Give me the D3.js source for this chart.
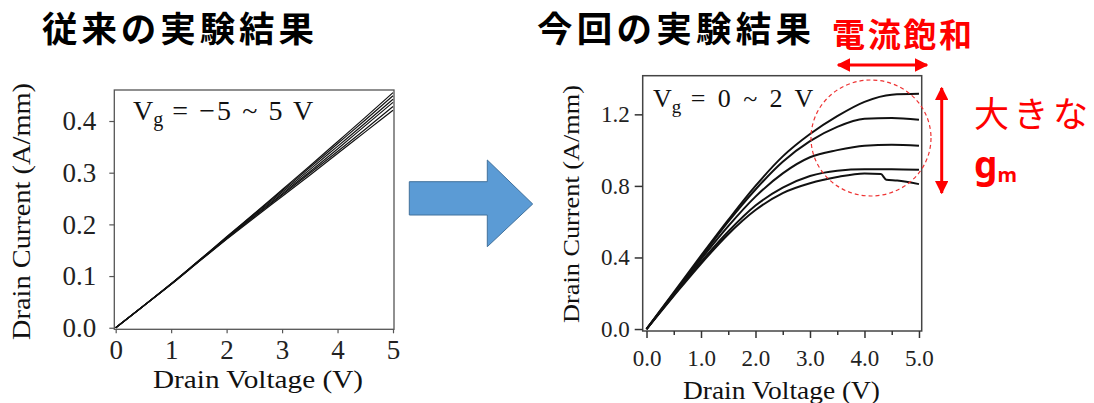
<!DOCTYPE html>
<html>
<head>
<meta charset="utf-8">
<script src="https://cdn.jsdelivr.net/npm/d3@7"></script>
<style>
  html, body { margin: 0; padding: 0; background: #fff; }
  svg { display: block; }
</style>
</head>
<body>
<svg id="chart" width="1094" height="403"></svg>
<script>
// ---------- DATA ----------
const titles = ["従来の実験結果", "今回の実験結果"];
const noteSaturation = "電流飽和";
const noteLarge = "大きな";

// Left chart (conventional): Vg = -5 ~ 5 V
const leftX = [0, 0.5, 1, 1.5, 2, 2.5, 3, 3.5, 4, 4.5, 5];
const leftCurrents = [
  [0, 0.042, 0.085, 0.130, 0.176, 0.221, 0.267, 0.313, 0.360, 0.407, 0.455],
  [0, 0.042, 0.085, 0.130, 0.175, 0.220, 0.265, 0.310, 0.356, 0.402, 0.449],
  [0, 0.042, 0.085, 0.129, 0.174, 0.218, 0.262, 0.306, 0.351, 0.396, 0.442],
  [0, 0.042, 0.084, 0.129, 0.173, 0.216, 0.259, 0.302, 0.346, 0.391, 0.436],
  [0, 0.042, 0.084, 0.128, 0.172, 0.215, 0.257, 0.299, 0.341, 0.384, 0.428],
  [0, 0.042, 0.084, 0.128, 0.171, 0.213, 0.254, 0.295, 0.337, 0.379, 0.421]
];
const leftXTicks = [0, 1, 2, 3, 4, 5];
const leftYTicks = [0, 0.1, 0.2, 0.3, 0.4];

// Right chart (this work): Vg = 0 ~ 2 V
const rightX = [0, 0.5, 1, 1.5, 2, 2.5, 3, 3.5, 4, 4.5, 5];
const rightC1 = [0, 0.205, 0.41, 0.61, 0.80, 0.965, 1.09, 1.19, 1.27, 1.31, 1.315];
const rightC2 = [0, 0.20, 0.40, 0.60, 0.78, 0.935, 1.05, 1.13, 1.175, 1.18, 1.17];
const rightC3 = [0, 0.195, 0.39, 0.575, 0.74, 0.87, 0.96, 1.00, 1.025, 1.03, 1.025];
const rightC4 = [0, 0.19, 0.375, 0.545, 0.69, 0.79, 0.855, 0.885, 0.893, 0.893, 0.89];
const rightX5 = [0, 0.5, 1, 1.5, 2, 2.5, 3, 3.5, 4, 4.3, 4.4, 4.6, 5];
const rightC5 = [0, 0.185, 0.365, 0.53, 0.665, 0.76, 0.815, 0.85, 0.87, 0.866, 0.835, 0.83, 0.81];
const rightXTicks = [0, 1, 2, 3, 4, 5];
const rightXMinor = [0.5, 1.5, 2.5, 3.5, 4.5];
const rightYTicks = [0, 0.4, 0.8, 1.2];

// ---------- DRAW ----------
const svg = d3.select("#chart");
svg.append("rect").attr("width", 1094).attr("height", 403).attr("fill", "#fff");

const serif = "'Liberation Serif', 'Times New Roman', serif";
const cjk = "'Noto Sans CJK JP', 'Noto Sans', sans-serif";

// Titles
svg.append("text").attr("x", 42).attr("y", 41.5)
  .attr("font-family", cjk).attr("font-weight", 700).attr("font-size", 35.5)
  .attr("textLength", 272).attr("lengthAdjust", "spacing")
  .text(titles[0]);
svg.append("text").attr("x", 537).attr("y", 41.5)
  .attr("font-family", cjk).attr("font-weight", 700).attr("font-size", 35.5)
  .attr("textLength", 274).attr("lengthAdjust", "spacing")
  .text(titles[1]);

// ---------- Left chart ----------
const xL = d3.scaleLinear().domain([-0.025, 5.018]).range([114.3, 394]);
const yL = d3.scaleLinear().domain([-0.003, 0.46]).range([329.3, 90]);

const gL = svg.append("g");
gL.append("rect")
  .attr("x", xL(-0.025)).attr("y", yL(0.46))
  .attr("width", xL(5.018) - xL(-0.025)).attr("height", yL(-0.003) - yL(0.46))
  .attr("fill", "none").attr("stroke", "#555").attr("stroke-width", 1.3);

const axLY = gL.append("g").attr("transform", `translate(${xL(-0.025)},0)`)
  .call(d3.axisLeft(yL).tickValues(leftYTicks).tickFormat(d3.format(".1f"))
    .tickSize(5).tickSizeOuter(0).tickPadding(13));
const axLX = gL.append("g").attr("transform", `translate(0,${yL(-0.003)})`)
  .call(d3.axisBottom(xL).tickValues(leftXTicks).tickFormat(d3.format("d"))
    .tickSize(4).tickSizeOuter(0).tickPadding(7));
[axLY, axLX].forEach(a => {
  a.select(".domain").remove();
  a.selectAll("line").attr("stroke", "#555").attr("stroke-width", 1.2);
  a.selectAll("text").attr("font-family", serif).attr("font-size", 27).attr("fill", "#222");
});

const lineL = d3.line().x((d, i) => xL(leftX[i])).y(d => yL(d)).curve(d3.curveMonotoneX);
gL.selectAll("path.curve").data(leftCurrents).join("path")
  .attr("class", "curve")
  .attr("d", lineL)
  .attr("fill", "none").attr("stroke", "#111").attr("stroke-width", 1.2);

// Vg label
const vgL = gL.append("text").attr("x", 133).attr("y", 120)
  .attr("font-family", serif).attr("font-size", 28).attr("fill", "#111");
vgL.append("tspan").text("V");
vgL.append("tspan").attr("font-size", 20).attr("dy", 6).text("g");
vgL.append("tspan").attr("dy", -6).attr("textLength", 150).attr("lengthAdjust", "spacing")
  .text(" = \u22125 ~ 5 V");

// axis titles
gL.append("text").attr("x", 258).attr("y", 388).attr("text-anchor", "middle")
  .attr("font-family", serif).attr("font-size", 26).attr("fill", "#111")
  .attr("textLength", 210).attr("lengthAdjust", "spacingAndGlyphs")
  .text("Drain Voltage (V)");
gL.append("text").attr("transform", "translate(30,211.5) rotate(-90)")
  .attr("text-anchor", "middle")
  .attr("font-family", serif).attr("font-size", 26).attr("fill", "#111")
  .attr("textLength", 257).attr("lengthAdjust", "spacingAndGlyphs")
  .text("Drain Current (A/mm)");

// ---------- Arrow ----------
const arrowPts = [[409.3, 181.7], [487.3, 181.7], [487.3, 160], [532.7, 204], [487.3, 246.7], [487.3, 215], [409.3, 215]];
svg.append("path").attr("d", d3.line()(arrowPts) + "Z")
  .attr("fill", "#5b9bd5").attr("stroke", "#41719c").attr("stroke-width", 1);

// ---------- Right chart ----------
const xR = d3.scaleLinear().domain([-0.07, 5.05]).range([642.7, 921.7]);
const yR = d3.scaleLinear().domain([-0.011, 1.416]).range([331, 75.7]);

const gR = svg.append("g");
gR.append("rect")
  .attr("x", xR(-0.07)).attr("y", yR(1.416))
  .attr("width", xR(5.05) - xR(-0.07)).attr("height", yR(-0.011) - yR(1.416))
  .attr("fill", "none").attr("stroke", "#444").attr("stroke-width", 1.5);

const axRY = gR.append("g").attr("transform", `translate(${xR(-0.07)},0)`)
  .call(d3.axisLeft(yR).tickValues(rightYTicks).tickFormat(d3.format(".1f"))
    .tickSize(8).tickSizeOuter(0).tickPadding(5));
const axRX = gR.append("g").attr("transform", `translate(0,${yR(-0.011)})`)
  .call(d3.axisBottom(xR).tickValues(rightXTicks).tickFormat(d3.format(".1f"))
    .tickSize(7).tickSizeOuter(0).tickPadding(12));
const axRXm = gR.append("g").attr("transform", `translate(0,${yR(-0.011)})`)
  .call(d3.axisBottom(xR).tickValues(rightXMinor).tickFormat("")
    .tickSize(4).tickSizeOuter(0));
[axRY, axRX, axRXm].forEach(a => {
  a.select(".domain").remove();
  a.selectAll("line").attr("stroke", "#333").attr("stroke-width", 1.5);
  a.selectAll("text").attr("font-family", serif).attr("font-size", 23).attr("fill", "#222");
});

const rightSeries = [
  { xs: rightX, ys: rightC1 },
  { xs: rightX, ys: rightC2 },
  { xs: rightX, ys: rightC3 },
  { xs: rightX, ys: rightC4 },
  { xs: rightX5, ys: rightC5 }
];
gR.selectAll("path.curve").data(rightSeries).join("path")
  .attr("class", "curve")
  .attr("d", s => d3.line().x((d, i) => xR(s.xs[i])).y(d => yR(d)).curve(d3.curveMonotoneX)(s.ys))
  .attr("fill", "none").attr("stroke", "#111").attr("stroke-width", 2);

const vgR = gR.append("text").attr("x", 653).attr("y", 107)
  .attr("font-family", serif).attr("font-size", 26).attr("fill", "#111");
vgR.append("tspan").text("V");
vgR.append("tspan").attr("font-size", 19).attr("dy", 6).text("g");
vgR.append("tspan").attr("dy", -6).attr("textLength", 132).attr("lengthAdjust", "spacing")
  .text(" = 0 ~ 2 V");

gR.append("text").attr("x", 781.5).attr("y", 399).attr("text-anchor", "middle")
  .attr("font-family", serif).attr("font-size", 25).attr("fill", "#111")
  .attr("textLength", 197).attr("lengthAdjust", "spacingAndGlyphs")
  .text("Drain Voltage (V)");
gR.append("text").attr("transform", "translate(579,204) rotate(-90)")
  .attr("text-anchor", "middle")
  .attr("font-family", serif).attr("font-size", 24).attr("fill", "#111")
  .attr("textLength", 238).attr("lengthAdjust", "spacingAndGlyphs")
  .text("Drain Current (A/mm)");

// red dashed ellipse
gR.append("ellipse").attr("cx", 871).attr("cy", 138).attr("rx", 60).attr("ry", 58)
  .attr("fill", "none").attr("stroke", "#ee3333").attr("stroke-width", 1.2)
  .attr("stroke-dasharray", "4,3");

// ---------- Red annotations ----------
const red = "#ff0000";
const defs = svg.append("defs");
defs.append("marker").attr("id", "ah").attr("viewBox", "0 0 10 10")
  .attr("refX", 9).attr("refY", 5).attr("markerWidth", 4.5).attr("markerHeight", 4.5)
  .attr("markerUnits", "strokeWidth").attr("orient", "auto-start-reverse")
  .append("path").attr("d", "M0,0 L10,5 L0,10 Z").attr("fill", red);

svg.append("line").attr("x1", 838).attr("y1", 65).attr("x2", 927).attr("y2", 65)
  .attr("stroke", red).attr("stroke-width", 3)
  .attr("marker-start", "url(#ah)").attr("marker-end", "url(#ah)");
svg.append("line").attr("x1", 941.7).attr("y1", 88).attr("x2", 941.7).attr("y2", 193)
  .attr("stroke", red).attr("stroke-width", 3)
  .attr("marker-start", "url(#ah)").attr("marker-end", "url(#ah)");

svg.append("text").attr("x", 832).attr("y", 47)
  .attr("font-family", cjk).attr("font-weight", 700).attr("font-size", 33).attr("fill", red)
  .attr("textLength", 140).attr("lengthAdjust", "spacing")
  .text(noteSaturation);
svg.append("text").attr("x", 974).attr("y", 127)
  .attr("font-family", cjk).attr("font-weight", 400).attr("font-size", 35).attr("fill", red)
  .attr("textLength", 114).attr("lengthAdjust", "spacing")
  .text(noteLarge);
const gm = svg.append("text").attr("x", 974).attr("y", 178)
  .attr("font-family", "'Noto Sans', sans-serif").attr("font-weight", 700).attr("font-size", 37).attr("fill", red);
gm.append("tspan").text("g");
gm.append("tspan").attr("font-size", 20).attr("dy", 4).text("m");
</script>
</body>
</html>
